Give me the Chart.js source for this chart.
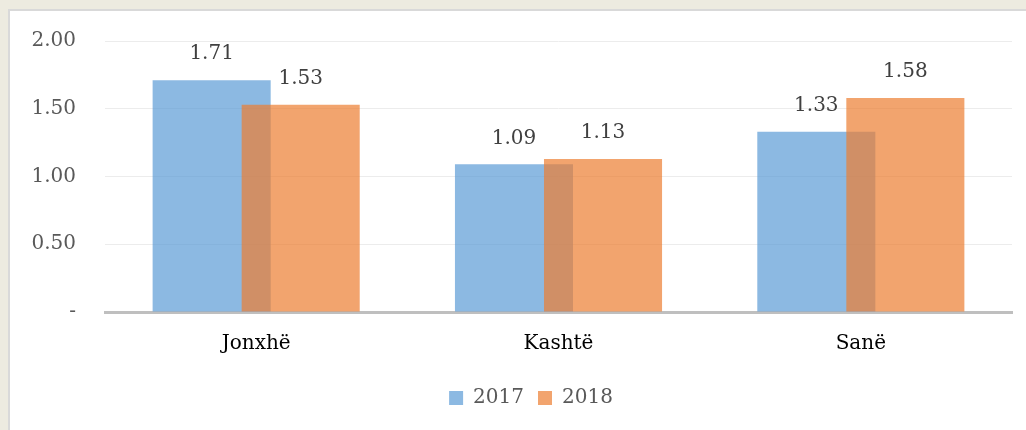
<!DOCTYPE html>
<html>
<head>
<meta charset="utf-8">
<script src="https://cdn.jsdelivr.net/npm/chart.js@4/dist/chart.umd.min.js"></script>
<style>
  html, body { margin: 0; padding: 0; }
  body { width: 1026px; height: 430px; background: #edebe0; position: relative; overflow: hidden; }
  #panel { position: absolute; left: 8px; top: 9px; width: 1040px; height: 440px; background: #fff; border: 2px solid #d9d9d9; }
  #wrap { position: absolute; left: 0; top: 0; width: 1026px; height: 430px; }
</style>
</head>
<body>
<div id="panel"></div>
<div id="wrap"><canvas id="c" width="1026" height="430"></canvas></div>
<script>
var categories = ["Jonxhë", "Kashtë", "Sanë"];
var values2017 = [1.71, 1.09, 1.33];
var values2018 = [1.53, 1.13, 1.58];
var seriesNames = ["2017", "2018"];

var FONT = "'DejaVu Serif', serif";

// draw 2017 first so the semi-transparent 2018 bar sits on top of it
var drawOrder = {
    id: "drawOrder",
    afterLayout: function (chart) {
        // legend sits a bit right of centre in the original
        if (chart.legend) { chart.legend.left += 25; chart.legend.right += 25; }
    },
    beforeDatasetsDraw: function (chart) {
        for (var i = 0; i < chart.data.datasets.length; i++) {
            var meta = chart.getDatasetMeta(i);
            if (meta.visible !== false) meta.controller.draw();
        }
        return false;
    },
    afterDraw: function (chart) {
        var ctx = chart.ctx;
        ctx.save();
        ctx.font = "20px " + FONT;
        ctx.fillStyle = "#404040";
        ctx.textAlign = "center";
        ctx.textBaseline = "middle";
        chart.data.datasets.forEach(function (ds, i) {
            chart.getDatasetMeta(i).data.forEach(function (el, j) {
                ctx.fillText(ds.data[j].toFixed(2), el.x, el.y - 26);
            });
        });
        ctx.restore();
    }
};

new Chart(document.getElementById("c"), {
    type: "bar",
    data: {
        labels: categories,
        datasets: [
            { label: seriesNames[0], data: values2017, backgroundColor: "rgba(91,155,213,0.7)", borderWidth: 0 },
            { label: seriesNames[1], data: values2018, backgroundColor: "rgba(237,125,49,0.7)", borderWidth: 0 }
        ]
    },
    options: {
        responsive: false,
        animation: false,
        categoryPercentage: 0.589,
        barPercentage: 1.326,
        layout: { padding: { left: 0, right: 14, top: 34, bottom: 12 } },
        plugins: {
            tooltip: { enabled: false },
            legend: {
                position: "bottom",
                labels: {
                    boxWidth: 14, boxHeight: 14, padding: 14,
                    color: "#595959",
                    font: { family: FONT, size: 20 }
                }
            }
        },
        scales: {
            x: {
                grid: { display: false, drawTicks: false },
                border: { display: true, color: "#bfbfbf", width: 3 },
                ticks: { color: "#000", padding: 20, font: { family: FONT, size: 20 } },
                afterFit: function (s) { s.height = 62; }
            },
            y: {
                min: 0, max: 2,
                grid: { color: "#ececec", lineWidth: 1, drawTicks: false },
                border: { display: false },
                ticks: {
                    stepSize: 0.5, padding: 29, color: "#595959",
                    font: { family: FONT, size: 20 },
                    callback: function (v) { return v === 0 ? "-" : v.toFixed(2); }
                },
                afterFit: function (s) { s.width = 105; }
            }
        }
    },
    plugins: [drawOrder]
});
</script>
</body>
</html>
